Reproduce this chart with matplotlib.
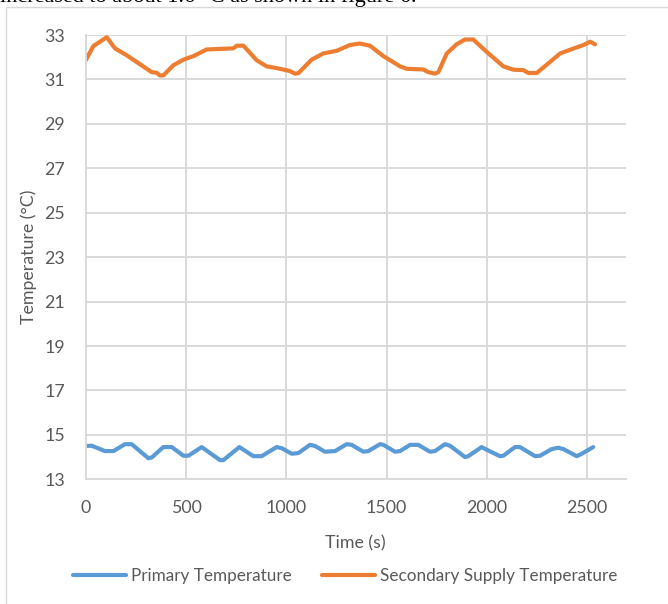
#%% Import libraries
import matplotlib
matplotlib.use('Agg')
import matplotlib.pyplot as plt
from matplotlib.patches import Rectangle

#%% Data
time_secondary = [0, 38, 105, 146, 204, 237, 329, 354, 370, 387, 437, 487, 537, 603, 736, 753,
                  786, 853, 902, 952, 1018, 1043, 1060, 1126, 1184, 1251, 1317, 1367, 1376,
                  1417, 1484, 1567, 1600, 1683, 1708, 1741, 1758, 1800, 1850, 1891, 1932,
                  1999, 2082, 2132, 2182, 2207, 2248, 2315, 2365, 2431, 2481, 2515, 2539]
temp_secondary = [31.86, 32.5, 32.9, 32.4, 32.09, 31.89, 31.33, 31.3, 31.18, 31.18, 31.64, 31.89,
                  32.05, 32.35, 32.4, 32.52, 32.52, 31.86, 31.59, 31.51, 31.38, 31.26, 31.28,
                  31.89, 32.17, 32.29, 32.55, 32.62, 32.6, 32.52, 32.05, 31.59, 31.48, 31.45,
                  31.33, 31.26, 31.33, 32.17, 32.59, 32.8, 32.8, 32.24, 31.59, 31.44, 31.42,
                  31.29, 31.29, 31.79, 32.17, 32.39, 32.55, 32.7, 32.58]

time_primary = [0, 30, 96, 138, 196, 229, 312, 329, 387, 429, 487, 512, 578, 670, 686, 766,
                836, 877, 952, 977, 1027, 1060, 1118, 1143, 1193, 1243, 1301, 1326, 1384,
                1409, 1467, 1484, 1542, 1567, 1617, 1658, 1716, 1741, 1791, 1816, 1891, 1907,
                1974, 1999, 2065, 2082, 2140, 2165, 2240, 2265, 2323, 2356, 2381, 2448, 2473, 2530]
temp_primary = [14.5, 14.51, 14.27, 14.27, 14.58, 14.58, 13.95, 13.98, 14.45, 14.45, 14.06, 14.06,
                14.45, 13.86, 13.86, 14.45, 14.04, 14.04, 14.45, 14.4, 14.15, 14.18, 14.55, 14.5,
                14.24, 14.27, 14.58, 14.55, 14.24, 14.27, 14.58, 14.55, 14.24, 14.27, 14.55,
                14.55, 14.24, 14.27, 14.58, 14.51, 14.0, 14.04, 14.45, 14.33, 14.04, 14.06,
                14.45, 14.45, 14.04, 14.06, 14.36, 14.42, 14.36, 14.04, 14.15, 14.45]

x_ticks = [0, 500, 1000, 1500, 2000, 2500]
y_ticks = [13, 15, 17, 19, 21, 23, 25, 27, 29, 31, 33]

#%% Plot
plt.rcParams['font.family'] = ['Lato', 'DejaVu Sans']
text_col = '#595959'
grid_col = '#d9d9d9'

fig = plt.figure(figsize=(6.68, 6.04), dpi=100)
ax = fig.add_axes([0.1283, 0.2065, 0.937 - 0.1283, 0.942 - 0.2065])

ax.plot(time_primary, temp_primary, color='#5b9bd5', lw=3, solid_capstyle='round',
        label='Primary Temperature')
ax.plot(time_secondary, temp_secondary, color='#ed7d31', lw=3, solid_capstyle='round',
        label='Secondary Supply Temperature')

ax.set_xlim(0, 2693)
ax.set_ylim(13, 33)
ax.set_xticks(x_ticks)
ax.set_yticks(y_ticks)
ax.grid(True, color=grid_col, lw=1.4)
ax.set_axisbelow(True)
ax.tick_params(length=0, labelsize=12.8, labelcolor=text_col)
ax.tick_params(axis='y', pad=15)
ax.tick_params(axis='x', pad=15)
for side in ['top', 'right']:
    ax.spines[side].set_visible(False)
for side in ['left', 'bottom']:
    ax.spines[side].set_color(grid_col)
    ax.spines[side].set_linewidth(1.4)

ax.set_xlabel('Time (s)', fontsize=12.8, color=text_col, labelpad=14)
ax.set_ylabel('Temperature (°C)', fontsize=12.8, color=text_col, labelpad=5)

fig.legend(loc='center', bbox_to_anchor=(0.517, 0.046), ncol=2, frameon=False,
           fontsize=12.3, labelcolor=text_col, handlelength=3.1, columnspacing=1.75,
           handletextpad=0.3)

# chart border and clipped caption text above it
fig.add_artist(Rectangle((0.0085, -0.1), 1.2, 1.089, transform=fig.transFigure,
                         fill=False, ec=grid_col, lw=1))
fig.text(0.0, 1.0 - 2 / 604, 'increased to about 1.6 °C as shown in figure 6.',
         family='Liberation Serif', fontsize=16, va='baseline', ha='left', color='black')

fig.savefig('out.png', dpi=100)
